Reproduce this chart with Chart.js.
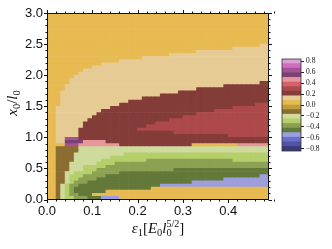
<!DOCTYPE html>
<html>
<head>
<meta charset="UTF-8">
<title>x0/l0 map</title>
<script src="https://cdn.jsdelivr.net/npm/chart.js"></script>
<style>
  body { margin: 0; background: #fff; }
  #wrap { position: relative; width: 332px; height: 249px; }
  #main { position: absolute; left: 0; top: 0; }
  #cbar { position: absolute; left: 270px; top: 50px; }
</style>
</head>
<body>
<div id="wrap">
  <canvas id="main" width="332" height="249"></canvas>
  <canvas id="cbar" width="62" height="110"></canvas>
</div>
<script>
// colour levels (tab20b), from the most negative to the most positive
const levelColors = [
  '#393b79', '#5254a3', '#6b6ecf', '#9c9ede',
  '#637939', '#8ca252', '#b5cf6b', '#cedb9c',
  '#8c6d31', '#bd9e39', '#e7ba52', '#e7cb94',
  '#843c39', '#ad494a', '#d6616b', '#e7969c',
  '#7b4173', '#a55194', '#ce6dbd', '#de9ed6'
];
const levelMin = -0.84;
const levelStep = 0.084;

// grid: eps1 columns of 0.01 (0 .. 0.49), x0 rows of 0.05 (0 .. 3.0)
const epsStep = 0.01;
const epsMax = 0.49;
const x0Step = 0.05;
const x0Max = 3.0;

const xTicks = [0, 0.1, 0.2, 0.3, 0.4];
const yTicks = [0, 0.5, 1.0, 1.5, 2.0, 2.5, 3.0];
const cbTicks = [-0.8, -0.6, -0.4, -0.2, 0, 0.2, 0.4, 0.6, 0.8];

// each row (bottom to top) as runs of [level, number of columns]
const rowRuns = [
  [[10,2],[8,1],[7,1],[6,2],[5,3],[4,3],[3,4],[10,33]],
  [[10,2],[8,1],[7,1],[6,1],[5,2],[4,3],[10,39]],
  [[10,2],[8,1],[7,1],[6,1],[5,1],[4,7],[10,36]],
  [[10,2],[8,1],[7,1],[6,1],[5,1],[4,17],[10,26]],
  [[10,2],[8,1],[7,1],[6,1],[5,2],[4,18],[3,24]],
  [[10,2],[8,2],[7,1],[6,1],[5,3],[4,23],[3,17]],
  [[10,2],[8,2],[7,1],[6,2],[5,4],[4,28],[3,10]],
  [[10,2],[8,2],[7,1],[6,3],[5,5],[4,34],[3,2]],
  [[10,2],[8,2],[7,2],[6,4],[5,6],[4,33]],
  [[10,2],[8,3],[7,3],[6,3],[5,17],[4,21]],
  [[10,2],[8,3],[7,3],[6,5],[5,36]],
  [[10,2],[8,3],[7,6],[6,4],[5,34]],
  [[10,2],[8,4],[7,6],[6,10],[5,19],[6,8]],
  [[10,2],[8,4],[7,8],[6,35]],
  [[10,2],[8,4],[7,11],[6,32]],
  [[10,2],[8,5],[7,42]],
  [[10,2],[8,5],[7,42]],
  [[10,4],[17,3],[15,9],[12,16],[10,10],[15,7]],
  [[10,2],[11,2],[16,4],[15,5],[12,36]],
  [[10,2],[11,2],[17,3],[12,42]],
  [[10,2],[11,5],[12,33],[13,9]],
  [[10,2],[11,5],[12,21],[13,21]],
  [[10,2],[11,5],[12,13],[13,29]],
  [[10,2],[11,6],[12,14],[13,27]],
  [[10,2],[11,6],[12,16],[13,25]],
  [[10,2],[11,7],[12,18],[13,22]],
  [[10,2],[11,8],[12,20],[13,19]],
  [[10,2],[11,9],[12,22],[13,16]],
  [[10,2],[11,10],[12,25],[13,12]],
  [[10,2],[11,12],[12,27],[13,8]],
  [[10,3],[11,13],[12,30],[13,3]],
  [[10,3],[11,15],[12,31]],
  [[10,3],[11,18],[12,28]],
  [[10,3],[11,22],[12,24]],
  [[10,3],[11,26],[12,20]],
  [[10,4],[11,29],[12,16]],
  [[10,4],[11,35],[12,10]],
  [[10,5],[11,42],[12,2]],
  [[10,5],[11,44]],
  [[10,6],[11,43]],
  [[10,7],[11,42]],
  [[10,8],[11,41]],
  [[10,10],[11,39]],
  [[10,12],[11,37]],
  [[10,16],[11,33]],
  [[10,21],[11,28]],
  [[10,27],[11,22]],
  [[10,33],[11,16]],
  [[10,41],[11,8]],
  [[10,47],[11,2]],
  [[10,49]], [[10,49]], [[10,49]], [[10,49]], [[10,49]],
  [[10,49]], [[10,49]], [[10,49]], [[10,49]], [[10,49]]
];

const SANS = '"Liberation Sans", Arial, sans-serif';
const SERIF = '"Liberation Serif", "Times New Roman", serif';
const INK = '#111';

// expand runs into cell values
const cells = rowRuns.map(runs =>
  runs.flatMap(([lvl, n]) => Array(n).fill(levelMin + (lvl + 0.5) * levelStep)));

function colorFor(v) {
  const i = Math.floor((v - levelMin) / levelStep);
  return levelColors[Math.max(0, Math.min(levelColors.length - 1, i))];
}

const datasets = cells.map((row, r) => ({
  data: row.map((v, c) => ({ x: (c + 0.5) * epsStep, y: [r * x0Step, (r + 1) * x0Step] })),
  backgroundColor: row.map(colorFor)
}));

function fontOf(p) {
  return (p.it ? 'italic ' : '') + p.s + 'px ' + SERIF;
}

// draws a small formula centred on cx, parts with keep:true share space with the next part
function drawMath(ctx, parts, cx, base) {
  const ms = parts.map(p => { ctx.font = fontOf(p); return ctx.measureText(p.t).width; });
  let total = 0, held = 0;
  parts.forEach((p, i) => {
    if (p.keep) held = Math.max(held, ms[i]);
    else { total += Math.max(ms[i], held); held = 0; }
  });
  let x = cx - total / 2;
  held = 0;
  ctx.textAlign = 'left';
  ctx.textBaseline = 'alphabetic';
  parts.forEach((p, i) => {
    ctx.font = fontOf(p);
    ctx.fillText(p.t, x, base + (p.dy || 0));
    if (p.keep) held = Math.max(held, ms[i]);
    else { x += Math.max(ms[i], held); held = 0; }
  });
}

const xTitle = [
  { t: 'ε', it: true, s: 15 }, { t: '1', s: 10.5, dy: 3 },
  { t: '[', s: 15 }, { t: 'E', it: true, s: 15 }, { t: '0', s: 10.5, dy: 3 },
  { t: 'l', it: true, s: 15 }, { t: '5/2', s: 10, dy: -6, keep: true }, { t: '0', s: 10.5, dy: 3 },
  { t: ']', s: 15 }
];
const yTitle = [
  { t: 'x', it: true, s: 15 }, { t: '0', s: 10.5, dy: 3 },
  { t: '/', s: 15 }, { t: 'l', it: true, s: 15 }, { t: '0', s: 10.5, dy: 3 }
];

const framePlugin = {
  id: 'frame',
  afterDraw(chart) {
    const { ctx, chartArea: a, scales: { x, y } } = chart;
    const L = Math.round(a.left) + 0.5, R = Math.round(a.right) - 0.5;
    const T = Math.round(a.top) + 0.5, B = Math.round(a.bottom) - 0.5;
    ctx.save();
    ctx.strokeStyle = INK;
    ctx.lineWidth = 1;
    ctx.strokeRect(L, T, R - L, B - T);

    ctx.beginPath();
    for (let k = 0; k <= Math.round(epsMax / 0.02); k++) {
      const v = k * 0.02;
      const major = xTicks.some(t => Math.abs(t - v) < 1e-9);
      const len = major ? 3.5 : 2;
      const px = Math.round(x.getPixelForValue(v)) + 0.5;
      ctx.moveTo(px, B); ctx.lineTo(px, B + len);
      ctx.moveTo(px, T); ctx.lineTo(px, T - len);
    }
    for (let k = 0; k <= Math.round(x0Max / 0.1); k++) {
      const v = k * 0.1;
      const major = yTicks.some(t => Math.abs(t - v) < 1e-9);
      const len = major ? 3.5 : 2;
      const py = Math.round(y.getPixelForValue(v)) + 0.5;
      ctx.moveTo(L, py); ctx.lineTo(L - len, py);
      ctx.moveTo(R, py); ctx.lineTo(R + len, py);
    }
    ctx.stroke();

    ctx.fillStyle = INK;
    drawMath(ctx, xTitle, (a.left + a.right) / 2, 233);
    ctx.translate(17, 103);
    ctx.rotate(-Math.PI / 2);
    drawMath(ctx, yTitle, 0, 0);
    ctx.restore();
  }
};

new Chart(document.getElementById('main'), {
  type: 'bar',
  data: { datasets },
  options: {
    responsive: false,
    animation: false,
    events: [],
    layout: { padding: { left: 0, right: 63, top: 13, bottom: 0 } },
    datasets: { bar: { grouped: false, barPercentage: 1, categoryPercentage: 1, borderWidth: 0 } },
    plugins: { legend: { display: false }, tooltip: { enabled: false } },
    scales: {
      x: {
        type: 'linear', min: 0, max: epsMax, offset: false,
        grid: { display: false, drawTicks: false },
        border: { display: false },
        afterBuildTicks: s => { s.ticks = xTicks.map(v => ({ value: v })); },
        afterFit: s => { s.height = 49.5; },
        ticks: {
          autoSkip: false, maxRotation: 0, padding: 4, color: INK,
          font: { family: SANS, size: 13 },
          callback: v => v.toFixed(1)
        }
      },
      y: {
        type: 'linear', min: 0, max: x0Max,
        grid: { display: false, drawTicks: false },
        border: { display: false },
        afterBuildTicks: s => { s.ticks = yTicks.map(v => ({ value: v })); },
        afterFit: s => { s.width = 47; },
        ticks: {
          autoSkip: false, padding: 4, color: INK,
          font: { family: SANS, size: 13 },
          callback: v => v.toFixed(1)
        }
      }
    }
  },
  plugins: [framePlugin]
});

const cbFrame = {
  id: 'cbFrame',
  afterDraw(chart) {
    const { ctx, chartArea: a } = chart;
    ctx.save();
    ctx.strokeStyle = '#333';
    ctx.lineWidth = 0.8;
    ctx.strokeRect(a.left, a.top, a.right - a.left, a.bottom - a.top);
    ctx.restore();
  }
};

new Chart(document.getElementById('cbar'), {
  type: 'bar',
  data: {
    labels: [''],
    datasets: levelColors.map((col, i) => ({
      data: [[levelMin + i * levelStep, levelMin + (i + 1) * levelStep]],
      backgroundColor: col
    }))
  },
  options: {
    responsive: false,
    animation: false,
    events: [],
    layout: { padding: { left: 12, right: 0, top: 9, bottom: 9 } },
    datasets: { bar: { grouped: false, barPercentage: 1, categoryPercentage: 1, borderWidth: 0 } },
    plugins: { legend: { display: false }, tooltip: { enabled: false } },
    scales: {
      x: { display: false },
      y: {
        position: 'right', min: levelMin, max: -levelMin,
        grid: { display: true, drawOnChartArea: false, tickLength: 3, color: '#222' },
        border: { display: false },
        afterBuildTicks: s => { s.ticks = cbTicks.map(v => ({ value: v })); },
        afterFit: s => { s.width = 31; },
        ticks: {
          autoSkip: false, padding: 2, color: INK,
          font: { family: SERIF, size: 7.5 },
          callback: v => (v < -1e-9 ? '\u2212' : '') + Math.abs(v).toFixed(1)
        }
      }
    }
  },
  plugins: [cbFrame]
});
</script>
</body>
</html>
